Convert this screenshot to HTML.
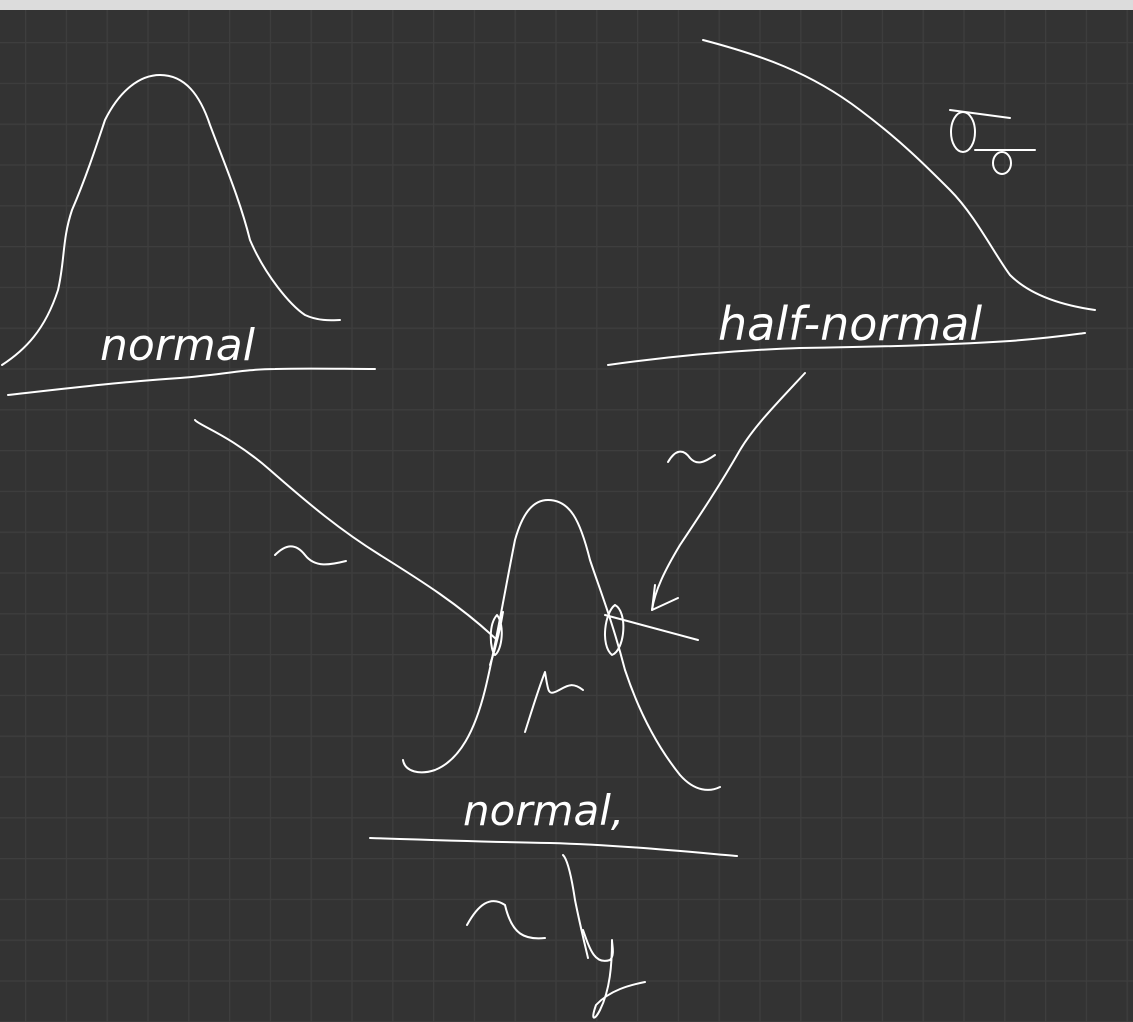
<!DOCTYPE html>
<html><head><meta charset="utf-8"><style>
html,body{margin:0;padding:0;background:#333;}
svg{display:block;}
text{font-family:"DejaVu Sans ExtraLight","DejaVu Sans","Liberation Sans",sans-serif;fill:#fff;font-weight:200;}
</style></head><body>
<svg width="1133" height="1022" viewBox="0 0 1133 1022" xmlns="http://www.w3.org/2000/svg">
<defs>
<pattern id="grid" x="25" y="42" width="40.8" height="40.8" patternUnits="userSpaceOnUse">
<path d="M0 0V40.8M0 0H40.8" stroke="#3e3e3e" stroke-width="2.5" fill="none"/>
</pattern>
</defs>
<rect width="1133" height="1022" fill="#333"/>
<rect x="0" y="10" width="1133" height="1012" fill="url(#grid)"/>
<rect x="0" y="0" width="1133" height="10" fill="#dcdcdc"/>
<g fill="none" stroke="#fff" stroke-width="2" stroke-linecap="round" stroke-linejoin="round">
<path d="M2,365 C25,350 45,330 58,290 C65,260 62,240 72,210 C85,180 95,150 105,120 C120,90 140,75 160,75 C185,75 200,95 210,125 C225,165 240,200 250,240 C265,275 290,305 305,315 C320,322 335,320 340,320"/>
<path d="M8,395 C70,388 120,382 180,378 C220,375 245,369 275,369 C310,368 345,369 375,369"/>
<path d="M703,40 C760,55 810,72 860,110 C900,140 925,165 950,190 C975,215 995,255 1010,275 C1030,295 1060,305 1095,310"/>
<path d="M608,365 C680,355 740,350 800,348 C870,347 950,345 1010,341 C1050,338 1070,335 1085,333"/>
<path d="M195,420 C198,425 230,435 270,470 C310,505 340,530 380,555 C420,580 460,605 497,640"/>
<path d="M805,373 C780,400 755,425 740,450 C720,485 700,515 680,545 C665,570 655,590 652,610"/>
<path d="M655,585 L652,610 L678,598"/>
<path d="M275,555 C285,545 295,542 305,555 C315,568 330,565 346,561"/>
<path d="M668,462 C675,450 683,448 690,458 C697,466 705,462 715,455"/>
<path d="M403,760 C405,772 420,775 435,770 C460,760 475,730 485,690 C495,650 505,590 515,540 C522,515 532,500 548,500 C570,500 580,520 590,560 C600,590 612,620 625,670 C640,715 660,750 680,775 C695,792 710,792 720,787"/>
<path d="M497,615 C488,625 490,650 495,655 C502,650 505,625 497,615 M490,665 C495,650 500,630 503,612"/>
<path d="M615,605 C605,612 600,645 612,655 C625,650 628,612 615,605 M605,615 L698,640"/>
<path d="M525,732 C532,710 538,690 545,672 C548,690 548,695 555,692 C565,688 570,680 583,690"/>
<path d="M370,838 C430,840 490,842 550,843 C620,845 690,852 737,856"/>
<path d="M563,855 C568,860 572,880 575,900 C580,925 585,945 588,958"/>
<path d="M467,925 C478,905 490,895 505,905 C512,935 525,940 545,938"/>
<path d="M583,930 C590,950 595,965 610,960 C615,955 612,945 612,940 C612,965 610,990 600,1010 C595,1020 590,1022 596,1005 C610,990 630,985 645,982"/>
<path d="M950,110 L1010,118 M975,150 L1035,150"/>
<ellipse cx="963" cy="132" rx="12" ry="20"/>
<ellipse cx="1002" cy="163" rx="9" ry="11"/>
</g>
<text x="100" y="360" font-size="44" font-style="italic">normal</text>
<text x="718" y="340" font-size="46" font-style="italic">half-normal</text>
<text x="463" y="825" font-size="42" font-style="italic">normal,</text>
</svg>
</body></html>
